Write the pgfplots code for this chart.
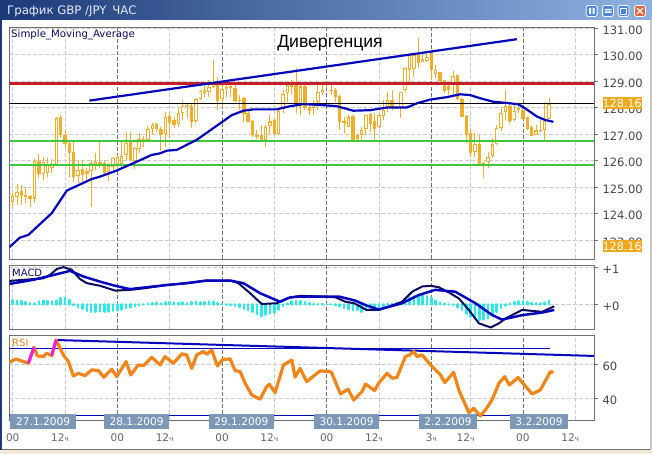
\documentclass[border=0pt]{standalone}
\usepackage{fontspec}
\setmainfont{DejaVu Sans}
\newfontfamily\arialfont{Liberation Sans}
\usepackage{pgfplots}
\usepackage{pgfplotstable}
\pgfplotsset{compat=1.18}

\definecolor{candle}{HTML}{EFAE2E}
\definecolor{smablue}{HTML}{0606BE}
\definecolor{navy}{HTML}{0C0C60}
\definecolor{lvlred}{HTML}{C4202C}
\definecolor{lvlgreen}{HTML}{3CC83C}
\definecolor{histcyan}{HTML}{2CE8E8}
\definecolor{rsiorange}{HTML}{F0851A}
\definecolor{rsimag}{HTML}{F020E0}
\definecolor{pricebox}{HTML}{F0A81C}
\definecolor{datebox}{HTML}{7D98B6}
\definecolor{txtgray}{HTML}{484848}
\definecolor{chrome}{HTML}{ECE9D8}
\definecolor{griddark}{HTML}{707070}
\definecolor{gridlight}{HTML}{CCCCCC}
\definecolor{titledark}{HTML}{1C3A78}
\definecolor{titlelight}{HTML}{8FB2E2}
\definecolor{btn}{HTML}{4C86D8}
\definecolor{btnred}{HTML}{E0603C}

% i open high low close (bar number, 27.1.2009 00:00 = 0)
\pgfplotstableread{
i o h l c
0 124.45 124.76 124.26 124.64
1 124.64 125.10 124.32 124.79
2 124.83 125.08 124.32 124.66
3 124.70 124.99 124.39 124.64
4 124.66 124.70 124.26 124.56
5 124.58 126.05 124.41 125.96
6 125.98 126.25 125.33 125.52
7 125.52 126.15 125.27 125.93
8 125.54 126.08 125.39 125.83
9 125.73 126.05 125.52 125.83
10 125.83 127.66 125.79 127.59
11 127.63 127.72 126.84 126.99
12 126.96 127.15 126.46 126.65
13 126.63 126.78 125.39 126.30
14 126.30 126.68 125.20 125.39
15 125.43 126.02 125.14 125.64
16 125.67 126.02 125.12 125.46
17 125.58 125.71 125.14 125.52
18 125.62 126.02 124.26 125.90
19 125.87 126.27 125.64 125.93
20 125.93 126.71 125.71 125.90
21 125.90 126.02 125.46 125.54
22 125.58 125.83 125.24 125.79
23 125.77 126.15 125.52 126.08
24 125.79 126.21 125.64 126.12
25 125.87 126.71 125.71 126.15
26 126.21 127.09 126.02 126.65
27 126.71 127.09 126.02 126.02
28 125.99 126.52 125.67 126.46
29 126.46 127.03 126.27 126.78
30 126.78 126.93 126.52 126.81
31 126.78 127.30 126.71 127.19
32 127.22 127.41 126.96 127.34
33 127.37 127.41 127.09 127.19
34 127.18 127.28 126.34 126.96
35 127.00 127.85 126.52 127.63
36 127.68 127.85 126.84 127.44
37 127.51 127.66 127.22 127.34
38 127.38 128.03 127.28 127.78
39 127.81 128.29 127.53 128.06
40 128.03 128.16 127.59 128.10
41 128.06 128.16 127.22 127.47
42 127.51 128.35 127.41 128.31
43 128.35 128.66 128.29 128.60
44 128.56 128.85 128.39 128.66
45 128.60 129.04 128.41 128.75
46 128.78 129.79 128.72 128.91
47 128.85 129.16 127.90 128.28
48 128.34 128.91 128.03 128.68
49 128.72 128.91 128.41 128.78
50 128.78 128.85 128.41 128.74
51 128.74 128.85 128.22 128.28
52 128.26 128.47 127.90 128.28
53 128.34 128.41 127.46 127.78
54 127.78 127.90 127.46 127.46
55 127.49 127.53 126.90 126.96
56 126.96 127.15 126.83 126.90
57 126.96 127.34 126.77 126.77
58 126.77 127.34 126.52 127.25
59 127.30 127.71 127.02 127.46
60 127.50 127.59 126.96 127.00
61 127.00 127.90 126.96 127.84
62 127.97 128.66 127.78 128.51
63 128.56 128.97 128.22 128.82
64 128.78 129.04 128.53 128.82
65 128.85 129.48 127.78 128.15
66 128.09 128.97 127.71 128.78
67 128.81 128.91 127.90 128.00
68 128.00 128.09 127.71 127.90
69 128.00 128.28 127.71 128.15
70 128.22 128.85 127.90 128.56
71 128.60 128.97 128.47 128.66
72 128.91 128.97 128.72 128.85
73 128.66 128.97 128.47 128.63
74 128.66 128.72 128.22 128.41
75 128.41 128.47 127.15 127.46
76 127.43 127.65 127.02 127.46
77 127.27 127.71 127.27 127.61
78 127.65 127.71 126.77 126.77
79 126.96 127.02 126.75 126.83
80 126.96 127.27 126.71 127.15
81 127.21 127.71 126.96 127.71
82 127.75 127.78 127.09 127.40
83 127.46 127.78 126.77 127.21
84 127.27 127.78 127.21 127.69
85 127.71 128.28 127.53 127.90
86 128.03 128.60 127.84 128.28
87 128.28 128.66 127.90 128.03
88 127.97 128.03 127.93 128.00
89 128.00 128.60 127.59 128.56
90 128.66 129.48 128.60 129.48
91 129.44 130.04 128.91 129.98
92 129.48 130.04 129.16 129.98
93 130.04 130.61 129.48 129.69
94 129.73 130.04 129.73 129.83
95 129.77 130.10 129.73 129.89
96 130.11 130.17 129.04 129.42
97 129.29 129.61 129.10 129.42
98 129.32 129.36 128.98 129.02
99 129.04 129.04 128.54 128.64
100 128.81 128.91 128.47 128.66
101 128.85 129.39 128.47 129.17
102 129.23 129.23 128.29 128.35
103 128.32 128.35 127.66 127.66
104 127.66 127.72 126.65 126.99
105 127.03 127.22 126.15 126.30
106 126.34 127.03 126.15 126.61
107 126.62 126.96 125.83 125.90
108 125.90 125.96 125.33 125.87
109 125.96 126.34 125.71 126.12
110 126.17 126.86 126.08 126.59
111 126.65 127.34 126.59 127.22
112 127.25 127.97 127.13 127.78
113 127.85 128.66 127.53 128.06
114 128.06 128.16 127.41 127.51
115 127.53 128.16 127.51 127.85
116 127.91 128.22 127.78 127.97
117 127.91 128.10 127.56 127.59
118 127.63 127.66 127.15 127.19
119 127.25 127.34 126.93 126.95
120 126.99 127.34 126.96 127.12
121 127.12 127.59 127.09 127.15
122 127.18 128.22 126.78 127.47
123 127.59 128.35 127.59 128.13
}\candles

\pgfplotstableread{
i v
0 .11
1 .10
2 .09
3 .06
4 .03
5 .02
6 .08
7 .10
8 .09
9 .08
10 .10
11 .17
12 .18
13 .12
14 -.02
15 -.08
16 -.12
17 -.18
18 -.20
19 -.20
20 -.19
21 -.20
22 -.19
23 -.17
24 -.16
25 -.14
26 -.10
27 -.08
28 -.05
29 -.03
30 .00
31 .02
32 .03
33 .04
34 .03
35 .05
36 .06
37 .05
38 .04
39 .05
40 .03
41 .06
42 .07
43 .05
44 .06
45 .08
46 .07
47 .03
48 .01
49 -.01
50 -.02
51 -.04
52 -.07
53 -.12
54 -.15
55 -.20
56 -.26
57 -.32
58 -.28
59 -.25
60 -.22
61 -.14
62 -.05
63 .02
64 .08
65 .10
66 .09
67 .06
68 .03
69 .01
70 .01
71 .01
72 .00
73 .00
74 -.02
75 -.05
76 -.10
77 -.13
78 -.16
79 -.15
80 -.20
81 -.12
82 -.10
83 -.10
84 -.08
85 -.05
86 .01
87 .02
88 .03
89 .05
90 .13
91 .18
92 .22
93 .25
94 .25
95 .22
96 .17
97 .10
98 .05
99 .02
100 .00
101 -.02
102 -.08
103 -.15
104 -.25
105 -.33
106 -.38
107 -.42
108 -.40
109 -.38
110 -.30
111 -.20
112 -.10
113 -.03
114 .02
115 .06
116 .08
117 .09
118 .06
119 .04
120 .03
121 .02
122 .05
123 .10
}\hist

\pgfplotsset{
  panel/.style={
    scale only axis, width=584.7pt,
    xmin=-0.78, xmax=133.3,
    axis line style={draw=griddark, line width=.9pt},
    xtick={0,12,24,36,48,60,72,84,96,105,117,129},
    xticklabels={},
    xmajorgrids, ymajorgrids,
    major grid style={draw=gridlight, dash pattern=on 4pt off 2pt, line width=.7pt},
    extra x ticks={24,48,72,96,117},
    extra x tick labels={},
    extra x tick style={major tick length=0pt, grid=major,
      major grid style={draw=griddark, dash pattern=on 4pt off 2pt, line width=.7pt}},
    xtick style={draw=none},
    ytick pos=right, yticklabel pos=right,
    tick align=outside, major tick length=3.5pt,
    ytick style={draw=griddark, line width=.6pt},
    /pgf/number format/assume math mode=true,
    yticklabel style={font=\fontsize{11.5}{12}\selectfont, text=txtgray, yshift=-2pt, xshift=1.5pt, anchor=west},
  },
}
\newcommand{\lab}[1]{\hspace*{-10pt}#1{\fontsize{7.5}{8}\selectfont ч}}

\begin{document}
\begin{tikzpicture}
\path[use as bounding box] (0,0) rectangle (652pt,454pt);
\fill[white] (0,0) rectangle (652pt,454pt);
% window frame
\fill[chrome] (0,0) rectangle (652pt,4pt);
\draw[griddark, line width=.8pt] (0,4.4pt) -- (652pt,4.4pt);
\fill[titledark] (0,4pt) rectangle (1.6pt,454pt);
\fill[chrome!70!gray] (649.5pt,4pt) rectangle (652pt,454pt);
\shade[left color=titledark, right color=titlelight] (0,434.5pt) rectangle (652pt,454pt);

% price panel
\begin{axis}[panel, at={(9.3pt,195pt)}, anchor=south west, height=231.7pt,
  ymin=122.28, ymax=131.03, ytick={123,...,131},
  yticklabel={\pgfmathprintnumber[fixed, fixed zerofill, precision=2, 1000 sep={}, assume math mode=true]{\tick}}]
  \addplot[draw=none, forget plot, error bars/.cd, y dir=both, y explicit, error mark=none,
    error bar style={draw=candle, line width=1pt}]
    table[x=i, y expr={(\thisrow{h}+\thisrow{l})/2}, y error expr={(\thisrow{h}-\thisrow{l})/2}] {\candles};
  \addplot[draw=none, forget plot, error bars/.cd, y dir=both, y explicit, error mark=none,
    error bar style={draw=candle, line width=3.4pt}]
    table[x=i, y expr={(\thisrow{o}+\thisrow{c})/2}, y error expr={abs(\thisrow{o}-\thisrow{c})/2+0.015}] {\candles};
  \addplot[draw=none, forget plot, x filter/.expression={\thisrow{c}>\thisrow{o} ? x : nan},
    error bars/.cd, y dir=both, y explicit, error mark=none,
    error bar style={draw=white, line width=1.5pt}]
    table[x=i, y expr={(\thisrow{o}+\thisrow{c})/2}, y error expr={max(abs(\thisrow{o}-\thisrow{c})/2-0.025,0)}] {\candles};
  % levels
  \addplot[lvlred, line width=2.5pt] coordinates {(-0.78,128.91) (133.3,128.91)};
  \addplot[black, line width=.8pt] coordinates {(-0.78,128.15) (133.3,128.15)};
  \addplot[lvlgreen, line width=2.4pt] coordinates {(-0.78,126.74) (133.3,126.74)};
  \addplot[lvlgreen, line width=2.4pt] coordinates {(-0.78,125.84) (133.3,125.84)};
  % trend line
  \addplot[smablue, line width=2.2pt] coordinates {(17.57,128.26) (115.6,130.58)};
  % moving average
  \addplot[smablue, line width=2.2pt, line join=round] coordinates {
    (-0.76,122.73) (1.68,123.09) (3.59,123.19) (8.95,124.01) (12.39,124.86) (13.53,124.95)
    (18.12,125.30) (20.03,125.39) (23.85,125.62) (27.68,125.90) (31.88,126.21) (33.79,126.27)
    (35.32,126.37) (37.61,126.40) (42.2,126.78) (47.55,127.40) (50.2,127.71) (52.9,127.88)
    (55.2,127.93) (60.5,127.93) (63.6,128.05) (66.7,128.13) (71.2,128.09) (74.3,128.05)
    (78.1,127.88) (82.0,127.90) (85.8,128.00) (90.4,128.00) (92.7,128.16) (95.7,128.30)
    (99.5,128.39) (102.6,128.50) (104.9,128.47) (107.2,128.35) (110.2,128.22) (114.0,128.16)
    (115.97,128.12) (117.5,127.97) (120.2,127.66) (122.1,127.53) (124.0,127.46)};
\end{axis}

% MACD panel
\begin{axis}[panel, at={(9.3pt,124.7pt)}, anchor=south west, height=64pt,
  ymin=-0.67, ymax=1.05, ytick={0,1}, yticklabels={+0,+1}]
  \addplot[ycomb, histcyan, line width=2.6pt, line cap=round, mark=none, forget plot] table[x=i, y=v] {\hist};
  \addplot[navy, line width=2pt, line join=round] coordinates {
    (-0.76,.63) (7.03,.70) (8.56,.79) (10.09,.95) (11.62,1.0) (13.53,.93) (15.44,.68) (16.97,.57)
    (20.03,.5) (23.47,.37) (26.91,.39) (29.97,.43) (35.32,.52) (39.91,.57) (44.5,.64) (49.85,.64)
    (51.76,.57) (54.43,.3) (57.11,.01) (60.55,.03) (62.84,.16) (65.9,.23) (70.94,.21) (74,.19)
    (76.3,.07) (78.3,.03) (81.1,-.15) (84,-.15) (86.2,-.06) (89.3,.07) (91.6,.34) (93.9,.48)
    (95.8,.5) (97.7,.46) (100,.32) (102.3,.16) (104.6,-.15) (106.9,-.51) (109.6,-.62) (111.5,-.51)
    (113,-.38) (116.8,-.15) (121.4,-.2) (124.2,-.05)};
  \addplot[smablue, line width=2.5pt, line join=round] coordinates {
    (-0.76,.55) (4.74,.66) (10.09,.81) (13.15,.9) (16.21,.75) (20.03,.61) (23.47,.5) (26.91,.41)
    (29.97,.45) (35.32,.52) (39.91,.57) (44.5,.64) (49.85,.64) (52.9,.57) (56.73,.3) (61.32,.07)
    (63.61,.19) (65.9,.21) (70.94,.21) (74.8,.21) (78.6,.1) (80.9,-.02) (83.9,-.14) (89.3,.03)
    (93.1,.25) (96.9,.39) (101.5,.34) (106.1,.03) (110,-.29) (112.2,-.41) (116.8,-.29) (121.4,-.22)
    (124.2,-.15)};
\end{axis}

% RSI panel
\begin{axis}[panel, at={(9.3pt,34pt)}, anchor=south west, height=84.7pt,
  ymin=27.2, ymax=77.05, ytick={40,60},
  yticklabel={\pgfmathprintnumber[fixed, precision=0, assume math mode=true]{\tick}},
  xticklabels={00,\lab{12},00,\lab{12},00,\lab{12},00,\lab{12},\lab{\kern10pt 3},\lab{12},00,\lab{12}},
  xticklabel style={font=\fontsize{10.5}{12}\selectfont, text=black!60, yshift=-7pt}]
  \addplot[smablue, line width=1pt] coordinates {(-0.78,69.4) (123.3,69.4)};
  \addplot[smablue, line width=1pt] coordinates {(-0.78,29.6) (120,29.6)};
  \addplot[smablue, line width=2pt] coordinates {(9.7,74.3) (133.25,64.9)};
  \addplot[rsiorange, line width=3.2pt, line join=round] coordinates {
    (-.76,61.2) (.76,63.1) (3.59,60.6) (4.89,70.0) (5.66,64.9) (7.03,64.5) (7.8,66.5) (8.95,65.1)
    (9.94,74.3) (11.62,65.5) (12.77,61.6) (13.9,53.1) (15.06,54.7) (16.6,53.3) (18.1,56.7)
    (19.65,56.3) (20.9,52.4) (22.7,57.1) (23.85,52.7) (26,61.6) (27.06,53.7) (28.8,59.6)
    (29.97,59.2) (31.9,64.1) (33.8,59.6) (34.9,64.5) (36.85,60.6) (38.76,66.1) (39.9,65.5)
    (41.06,57.6) (42.2,65.5) (43.7,67.5) (44.5,65.9) (45.64,68.4) (46.94,59.0) (48.17,62.9)
    (49.85,63.1) (51,56.3) (52.14,55.7) (53.3,48.8) (54.8,42.0) (56.7,39.4) (58.26,46.9)
    (58.87,48.2) (60.17,43.3) (62.1,59.6) (64,62.5) (64.76,52.4) (65.9,57.6) (67.4,49.8)
    (70.5,56.1) (72.78,55.7) (73.2,54.7) (75.15,42.5) (76.9,45.3) (78.2,39.0) (80.1,43.9)
    (80.9,48.4) (83,44.5) (83.9,48.8) (85.85,54.7) (87,51.8) (88.1,52.2) (90.05,64.5) (91,65.5)
    (92,67.5) (92.7,64.5) (93.9,65.5) (95.8,59.6) (98.1,53.7) (99.1,49.2) (101.1,55.3)
    (102.3,44.9) (104.6,31.6) (105.7,34.1) (107.2,29.6) (108.4,33.1) (109.9,39.0) (111.5,48.8)
    (112.8,52.7) (113.9,47.8) (115.9,52.2) (119.1,42.5) (121,44.9) (123.3,55.7) (124,55.1)};
  \addplot[rsimag, line width=3pt] coordinates {(3.59,60.6) (4.89,70.0)};
  \addplot[rsimag, line width=3pt] coordinates {(8.95,65.1) (9.94,74.3)};
\end{axis}

% labels
\node[anchor=west, inner sep=0, font=\fontsize{11.7}{13}\selectfont, text=white!92!blue] at (7pt,443pt) {График GBP /JPY\enspace ЧАС};
\node[anchor=west, inner sep=0, font=\fontsize{10.2}{12}\selectfont, text=navy] at (11pt,419.3pt) {Simple\_Moving\_Average};
\node[inner sep=0, font=\arialfont\fontsize{17.6}{19}\selectfont, text=black] at (330pt,411pt) {Дивергенция};
\node[anchor=west, inner sep=0, font=\fontsize{10}{12}\selectfont, text=navy] at (12pt,181.5pt) {MACD};
\node[anchor=west, inner sep=0, font=\fontsize{10}{12}\selectfont, text=rsiorange] at (12pt,111.5pt) {RSI};
\foreach \y in {351,208}
  \node[fill=pricebox, text=white, inner sep=0, minimum width=38.5pt, minimum height=11.5pt,
    anchor=west, font=\fontsize{11.2}{12}\selectfont] at (602.3pt,\y pt) {128.16};
\foreach \x/\w/\t in {10/66/27.1.2009, 103.7/65.3/28.1.2009, 208.3/65.7/29.1.2009, 314/64.7/30.1.2009, 418.7/58.3/2.2.2009, 509.7/58.3/3.2.2009}
  \node[fill=datebox, text=white, inner sep=0, minimum width=\w pt, minimum height=14.7pt,
    anchor=west, font=\fontsize{10.6}{12}\selectfont] at (\x pt,32.5pt) {\t};
% window buttons
\foreach \x/\c in {591.7/btn, 608/btn, 623.5/btn, 640/btnred}
  \draw[white, line width=.8pt, fill=\c, rounded corners=1.5pt] (\x pt-5.4pt,437.5pt) rectangle (\x pt+5.4pt,448.5pt);
\fill[white] (589pt,440pt) rectangle (591pt,446pt) (592.5pt,440pt) rectangle (594.5pt,446pt);
\fill[white] (604.5pt,441pt) rectangle (611.5pt,442.5pt) (604.5pt,443.5pt) rectangle (611.5pt,445pt);
\draw[white, line width=.9pt] (620.5pt,440pt) rectangle (626.5pt,446pt);
\draw[white, line width=1.2pt] (637pt,440pt) -- (643pt,446pt) (637pt,446pt) -- (643pt,440pt);
\end{tikzpicture}
\end{document}
